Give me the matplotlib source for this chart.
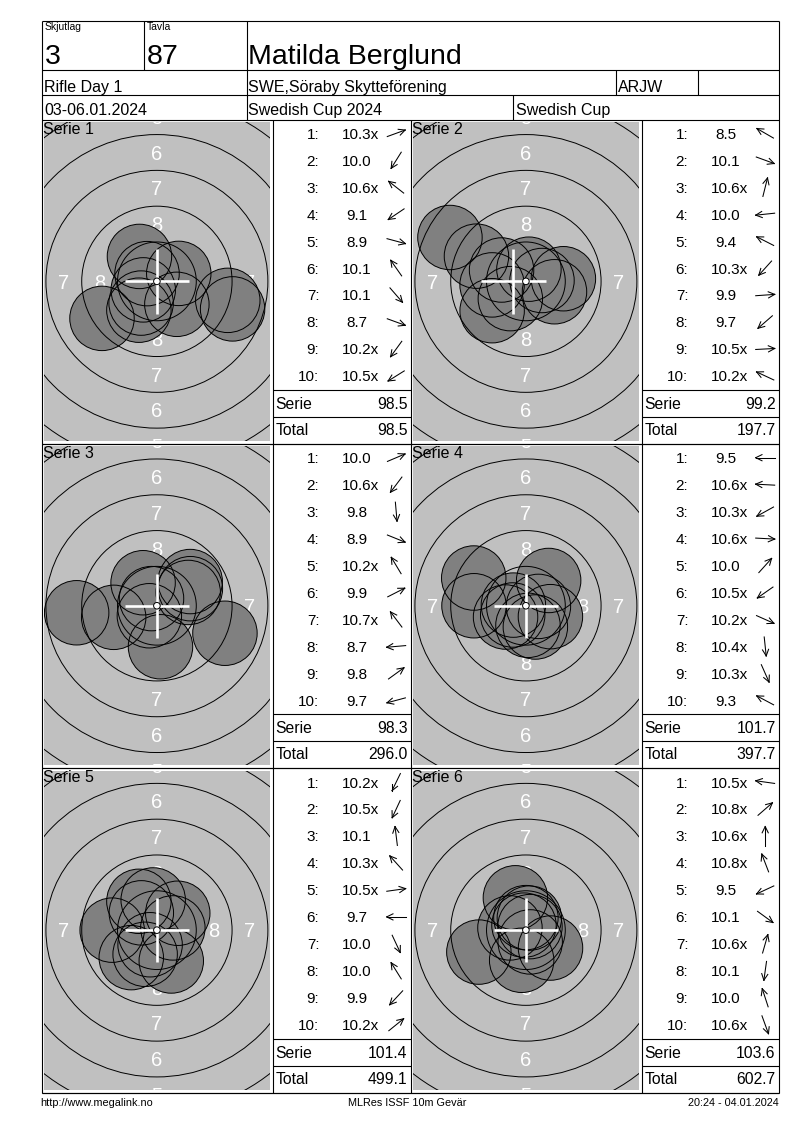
import numpy as np
import matplotlib
matplotlib.use("Agg")
import matplotlib.pyplot as plt
from matplotlib.patches import Circle

plt.rcParams['font.family'] = ['Liberation Sans', 'DejaVu Sans']

# ---------------- data ----------------
relay_label = "Skjutlag"
relay = "3"
lane_label = "Tavla"
lane = "87"
shooter = "Matilda Berglund"
event = "Rifle Day 1"
club = "SWE,Söraby Skytteförening"
shooter_class = "ARJW"
dates = "03-06.01.2024"
competition = "Swedish Cup 2024"
cup = "Swedish Cup"
footer_left = "http://www.megalink.no"
footer_mid = "MLRes ISSF 10m Gevär"
footer_right = "20:24 - 04.01.2024"

series_names = ["Serie 1", "Serie 2", "Serie 3", "Serie 4", "Serie 5", "Serie 6"]

s1_scores = [10.3, 10.0, 10.6, 9.1, 8.9, 10.1, 10.1, 8.7, 10.2, 10.5]
s2_scores = [8.5, 10.1, 10.6, 10.0, 9.4, 10.3, 9.9, 9.7, 10.5, 10.2]
s3_scores = [10.0, 10.6, 9.8, 8.9, 10.2, 9.9, 10.7, 8.7, 9.8, 9.7]
s4_scores = [9.5, 10.6, 10.3, 10.6, 10.0, 10.5, 10.2, 10.4, 10.3, 9.3]
s5_scores = [10.2, 10.5, 10.1, 10.3, 10.5, 9.7, 10.0, 10.0, 9.9, 10.2]
s6_scores = [10.5, 10.8, 10.6, 10.8, 9.5, 10.1, 10.6, 10.1, 10.0, 10.6]

s1_inner = [1, 0, 1, 0, 0, 0, 0, 0, 1, 1]
s2_inner = [0, 0, 1, 0, 0, 1, 0, 0, 1, 1]
s3_inner = [0, 1, 0, 0, 1, 0, 1, 0, 0, 0]
s4_inner = [0, 1, 1, 1, 0, 1, 1, 1, 1, 0]
s5_inner = [1, 1, 0, 1, 1, 0, 0, 0, 0, 1]
s6_inner = [1, 1, 1, 1, 0, 0, 1, 0, 0, 1]

# shot directions (degrees, counter-clockwise from 3 o'clock)
s1_dir = [20, 238, 142, 214, -15, 125, -49, -20, 234, 212]
s2_dir = [150, -20, 76, 186, 153, 228, 4, 221, 3, 155]
s3_dir = [23, 233, -85, -22, 121, 27, 127, 185, 36, 195]
s4_dir = [180, 177, 209, -3, 48, 215, -24, -84, -66, 152]
s5_dir = [244, 245, 97, 132, 8, 180, -65, 122, 227, 39]
s6_dir = [172, 41, 90, 111, 205, -36, 74, -98, 108, -70]

# white cross position (mm) per series
cross_x = [0.0, -0.88, 0.0, 0.0, 0.0, 0.0]
cross_y = [0.0, 0.0, 0.0, 0.0, 0.0, 0.0]

all_scores = [s1_scores, s2_scores, s3_scores, s4_scores, s5_scores, s6_scores]
all_inner = [s1_inner, s2_inner, s3_inner, s4_inner, s5_inner, s6_inner]
all_dir = [s1_dir, s2_dir, s3_dir, s4_dir, s5_dir, s6_dir]

ring_labels = [8, 7, 6, 5]

# ---------------- layout ----------------
W, H = 800, 1130
fig = plt.figure(figsize=(W / 100, H / 100), dpi=100)
fig.patch.set_facecolor("white")

LW = 0.8
FX0, FX1 = 41.7, 778.7
HY = [21.3, 70.3, 95.3, 119.5]
ROW_TOP = 119.5
ROW_H = 324.4
COL_LEFT = [41.7, 410.7]
COL_RIGHT = [410.7, 778.7]
PANEL_DX = 2.2
PANEL_W = 226.0
PANEL_DY = 2.5
PANEL_H = 318.7
TABLE_DX = 231.0
PX_MM = 14.32
PELLET_R = 2.25
LABEL_FS = 14.5

def ring_r(n):
    return 0.25 + (10 - n) * 2.5

# ---------------- targets ----------------
for k in range(6):
    row, col = divmod(k, 2)
    top = ROW_TOP + row * ROW_H
    x0 = COL_LEFT[col] + PANEL_DX
    y0 = top + PANEL_DY
    tax = fig.add_axes([x0 / W, 1 - (y0 + PANEL_H) / H, PANEL_W / W, PANEL_H / H])
    hw = PANEL_W / 2 / PX_MM
    hh = PANEL_H / 2 / PX_MM
    tax.set_xlim(-hw, hw)
    tax.set_ylim(-hh, hh)
    tax.set_facecolor("#c0c0c0")
    tax.set_xticks([])
    tax.set_yticks([])
    for sp in tax.spines.values():
        sp.set_visible(False)

    # ring numbers (only those that show inside the panel)
    em_mm = LABEL_FS * 100 / 72 / PX_MM
    cap = 0.716 * em_mm
    half_w = 0.556 * em_mm / 2
    for n in ring_labels:
        rm = (ring_r(n) + ring_r(n + 1)) / 2
        for (px, py) in [(0, rm), (0, -rm), (rm, 0), (-rm, 0)]:
            if abs(px) - half_w >= hw or abs(py) - cap / 2 >= hh:
                continue
            tax.text(px, py - cap / 2, str(n), color="white", fontsize=LABEL_FS,
                     ha="center", va="baseline", zorder=1, clip_on=True)

    sc = np.array(all_scores[k])
    ang = np.radians(np.array(all_dir[k], dtype=float))
    dist = (10.95 - sc) * 2.5
    xs = dist * np.cos(ang)
    ys = dist * np.sin(ang)
    for x, y in zip(xs, ys):
        tax.add_patch(Circle((x, y), PELLET_R, fc="#808080", ec="none", zorder=2))
    for n in range(1, 10):
        tax.add_patch(Circle((0, 0), ring_r(n), fill=False, ec="black", lw=0.7, zorder=3))
    for x, y in zip(xs, ys):
        tax.add_patch(Circle((x, y), PELLET_R, fill=False, ec="black", lw=0.7, zorder=4))
    cx, cy = cross_x[k], cross_y[k]
    tax.plot([cx - PELLET_R, cx + PELLET_R], [cy, cy], color="white", lw=1.9,
             solid_capstyle="butt", zorder=5)
    tax.plot([cx, cx], [cy - PELLET_R, cy + PELLET_R], color="white", lw=1.9,
             solid_capstyle="butt", zorder=5)
    tax.add_patch(Circle((0, 0), 0.23, fc="white", ec="black", lw=0.7, zorder=6))

# ---------------- overlay (tables, frame, text) ----------------
ax = fig.add_axes([0, 0, 1, 1], zorder=10)
ax.set_xlim(0, W)
ax.set_ylim(H, 0)
ax.set_axis_off()

def hline(y, x0, x1):
    ax.plot([x0, x1], [y, y], color="black", lw=LW, solid_capstyle="butt")

def vline(x, y0, y1):
    ax.plot([x, x], [y0, y1], color="black", lw=LW, solid_capstyle="butt")

# header frame
for y in HY:
    hline(y, FX0, FX1)
vline(FX0, HY[0], ROW_TOP + 3 * ROW_H)
vline(FX1, HY[0], ROW_TOP + 3 * ROW_H)
vline(144.3, HY[0], HY[1])
vline(246.7, HY[0], HY[3])
vline(616.0, HY[1], HY[2])
vline(698.3, HY[1], HY[2])
vline(513.3, HY[2], HY[3])

ax.text(45, 30.5, relay_label, fontsize=7.5, ha="left", va="baseline")
ax.text(146.7, 30.5, lane_label, fontsize=7.5, ha="left", va="baseline")
ax.text(44.5, 63.5, relay, fontsize=20.5, ha="left", va="baseline")
ax.text(146.5, 63.5, lane, fontsize=20.5, ha="left", va="baseline")
ax.text(248.3, 64, shooter, fontsize=20.5, ha="left", va="baseline")
ax.text(44, 92, event, fontsize=11.5, ha="left", va="baseline")
ax.text(248.3, 92, club, fontsize=11.5, ha="left", va="baseline")
ax.text(618.3, 92, shooter_class, fontsize=11.5, ha="left", va="baseline")
ax.text(44, 114.7, dates, fontsize=11.5, ha="left", va="baseline")
ax.text(248.3, 114.7, competition, fontsize=11.5, ha="left", va="baseline")
ax.text(516, 114.7, cup, fontsize=11.5, ha="left", va="baseline")

# series rows
FS = 11
FS_PX = FS * 100 / 72
running = 0.0
for k in range(6):
    row, col = divmod(k, 2)
    top = ROW_TOP + row * ROW_H
    bot = top + ROW_H
    tl = COL_LEFT[col] + TABLE_DX
    tr = COL_RIGHT[col]
    hline(bot, FX0, FX1)
    vline(tl, top, bot)
    if col == 0:
        vline(tr, top, bot)
    hline(top + 270.2, tl, tr)
    hline(top + 297.5, tl, tr)

    ax.text(COL_LEFT[col] + 1, top + 14.2, series_names[k], fontsize=11.5,
            ha="left", va="baseline")

    sc = all_scores[k]
    for i, (s, inn, a) in enumerate(zip(sc, all_inner[k], all_dir[k])):
        base = top + 19.2 + i * 26.96
        ax.text(tl + 46.6, base, f"{i + 1}:", fontsize=FS, ha="right", va="baseline")
        ns = f"{s:.1f}"
        cxs = tl + 83.8
        wnum = ((len(ns) - 1) * 0.556 + 0.278) * FS_PX
        label = ns + ("x" if inn else "")
        ax.text(cxs - wnum / 2, base, label, fontsize=FS, ha="left", va="baseline")
        # direction arrow
        ar = np.radians(a)
        d = np.array([np.cos(ar), -np.sin(ar)])
        c = np.array([tl + 123.5, base - 5.4])
        L = 19.0
        p0 = c - d * L / 2
        p1 = c + d * L / 2
        ax.plot([p0[0], p1[0]], [p0[1], p1[1]], color="black", lw=0.75)
        for sgn in (1, -1):
            t = ar + np.pi + sgn * np.radians(26)
            bd = np.array([np.cos(t), -np.sin(t)])
            pb = p1 + bd * 7.0
            ax.plot([p1[0], pb[0]], [p1[1], pb[1]], color="black", lw=0.75)

    serie_sum = round(sum(sc), 1)
    running = round(running + serie_sum, 1)
    ax.text(tl + 2.5, top + 289.5, "Serie", fontsize=11.3, ha="left", va="baseline")
    ax.text(tr - 3.2, top + 289.5, f"{serie_sum:.1f}", fontsize=11.3, ha="right", va="baseline")
    ax.text(tl + 2.5, top + 315.2, "Total", fontsize=11.3, ha="left", va="baseline")
    ax.text(tr - 3.2, top + 315.2, f"{running:.1f}", fontsize=11.3, ha="right", va="baseline")

# footer
ax.text(40.7, 1106, footer_left, fontsize=7.8, ha="left", va="baseline")
ax.text(407, 1106, footer_mid, fontsize=7.8, ha="center", va="baseline")
ax.text(778.7, 1106, footer_right, fontsize=7.8, ha="right", va="baseline")

fig.savefig("out.png", dpi=100)
